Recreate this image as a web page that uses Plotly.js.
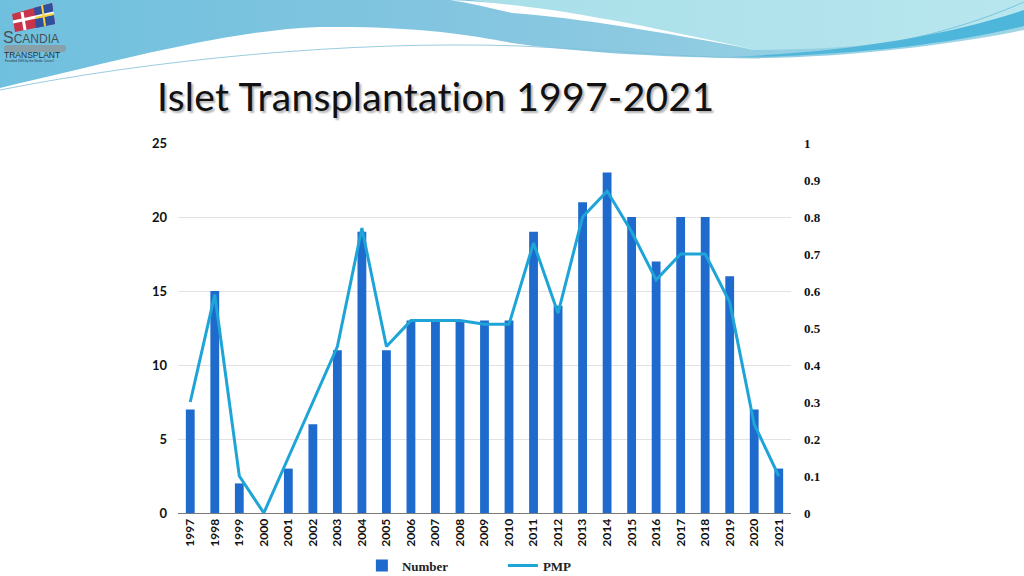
<!DOCTYPE html>
<html>
<head>
<meta charset="utf-8">
<script src="https://cdn.plot.ly/plotly-3.0.1.min.js"></script>
<style>
  html, body { margin: 0; padding: 0; background: #fff; }
  #page { position: relative; width: 1024px; height: 576px; overflow: hidden; }
  #deco { position: absolute; left: 0; top: 0; }
  #chart { position: absolute; left: 0; top: 0; width: 1024px; height: 576px; }
  #title {
    position: absolute; left: 157px; top: 73px; margin: 0;
    font-family: 'Lato', sans-serif; font-size: 39px; font-weight: 400;
    font-variant-ligatures: none;
    color: #111; letter-spacing: 0.3px;
    text-shadow: 2px 2px 2px rgba(0,0,0,0.3);
  }
</style>
</head>
<body>
<div id="page">
  <!-- header swoosh and logo, decoration only -->
  <svg id="deco" width="1024" height="120" viewBox="0 0 1024 120">
    <defs>
      <linearGradient id="gLeft" x1="0" y1="0" x2="1" y2="0">
        <stop offset="0" stop-color="#6fc0de"/>
        <stop offset="0.5" stop-color="#86c6e0"/>
        <stop offset="1" stop-color="#9fd6e6"/>
      </linearGradient>
      <linearGradient id="gRight" x1="0" y1="0" x2="1" y2="0">
        <stop offset="0" stop-color="#a8dfe9"/>
        <stop offset="1" stop-color="#b8e6ee"/>
      </linearGradient>
    </defs>
    <path d="M0,0 H1024 V30 C950,45 850,57 760,58 C650,58 560,50 512,43 C470,35 420,26 320,27 C230,30 120,60 0,88 Z" fill="url(#gLeft)"/>
    <path d="M470,0 H1024 V18 C950,38 860,50 752,50 C690,35 600,15 470,0 Z" fill="url(#gRight)"/>
    <path d="M450,0 C520,3 600,15 752,49 C660,32 580,18 512,13 C490,8 470,3 450,0 Z" fill="#ffffff"/>
    <path d="M730,57 C850,52 950,35 1024,10 V26 C950,44 850,56 730,57 Z" fill="#4db6da"/>
    <path d="M0,90 C150,60 350,40 520,46 C640,52 700,58 760,58" fill="none" stroke="#7fbfd6" stroke-width="0.8"/>
    <path d="M760,57 C880,52 960,30 1024,2" fill="none" stroke="#5fb8d8" stroke-width="0.7"/>
    <!-- logo -->
    <path d="M12,14 L52,3 L55,24 L15,32 Z" fill="#c8344a"/>
    <path d="M34,8 L52,3 L55,24 L36,28 Z" fill="#2f4f9f"/>
    <path d="M22,12 L25,30 M13,22 L54,13" stroke="#ffffff" stroke-width="3"/>
    <path d="M42,5 L45,26 M35,18 L54,14" stroke="#f2d13b" stroke-width="2"/>
    <rect x="4" y="45" width="62" height="7" rx="3" fill="#8e979c" opacity="0.8"/>
    <text x="3" y="43" font-family="Liberation Sans, sans-serif" font-size="16" fill="#4a4f55">S<tspan font-size="12">CANDIA</tspan></text>
    <text x="4" y="58" font-family="Liberation Sans, sans-serif" font-size="8.5" fill="#2a2f35">TRANSPLANT</text>
    <text x="5" y="62" font-family="Liberation Sans, sans-serif" font-size="3" fill="#333">Founded 1969 by the Nordic Council</text>
  </svg>
  <div id="chart"></div>
  <h1 id="title">Islet Transplantation 1997-2021</h1>
</div>
<script>
// Islet transplantation in Scandinavia, bars = number, line = per million population
var years = ['1997','1998','1999','2000','2001','2002','2003','2004','2005','2006','2007','2008','2009',
             '2010','2011','2012','2013','2014','2015','2016','2017','2018','2019','2020','2021'];
var numbers = [7,15,2,0,3,6,11,19,11,13,13,13,13,13,19,14,21,23,20,17,20,20,16,7,3];
var pmp = [0.30,0.59,0.10,0,0.15,0.30,0.45,0.77,0.45,0.52,0.52,0.52,0.51,0.51,0.73,0.54,0.80,0.87,0.76,0.63,0.70,0.70,0.57,0.24,0.10];

var barTrace = {
    x: years,
    y: numbers,
    name: 'Number',
    type: 'bar',
    width: 0.36,
    marker: { color: '#1e6bcd' },
    hoverinfo: 'none'
};

var lineTrace = {
    x: years,
    y: pmp,
    name: 'PMP',
    type: 'scatter',
    mode: 'lines',
    yaxis: 'y2',
    line: { color: '#1ea4d6', width: 3 },
    hoverinfo: 'none'
};

var layout = {
    width: 1024,
    height: 576,
    margin: { l: 178, r: 233, t: 143, b: 63 },
    paper_bgcolor: 'rgba(0,0,0,0)',
    plot_bgcolor: 'rgba(0,0,0,0)',
    showlegend: true,
    bargap: 0.64,
    xaxis: {
        type: 'category',
        automargin: false,
        tickangle: -90,
        ticks: '',
        showline: true,
        linecolor: '#7a7a7a',
        linewidth: 1,
        showgrid: false,
        tickfont: { family: 'Lato, sans-serif', size: 12, color: '#111', weight: 'bold' }
    },
    yaxis: {
        range: [0, 25],
        dtick: 5,
        automargin: false,
        showgrid: true,
        gridcolor: '#e2e2e2',
        zeroline: false,
        ticks: '',
        ticklabelstandoff: 10,
        tickfont: { family: 'Lato, sans-serif', size: 13, color: '#111', weight: 'bold' }
    },
    yaxis2: {
        range: [0, 1],
        dtick: 0.1,
        overlaying: 'y',
        side: 'right',
        automargin: false,
        showgrid: false,
        zeroline: false,
        ticks: '',
        ticklabelstandoff: 12,
        tickfont: { family: 'Liberation Serif, serif', size: 13, color: '#111', weight: 'bold' }
    },
    legend: {
        orientation: 'h',
        x: 0.53,
        xanchor: 'center',
        yref: 'container',
        y: 0.018,
        yanchor: 'middle',
        entrywidth: 96,
        font: { family: 'Liberation Serif, serif', size: 13, color: '#222', weight: 'bold' }
    }
};

Plotly.newPlot('chart', [barTrace, lineTrace], layout, { displayModeBar: false, staticPlot: true });
</script>
</body>
</html>
